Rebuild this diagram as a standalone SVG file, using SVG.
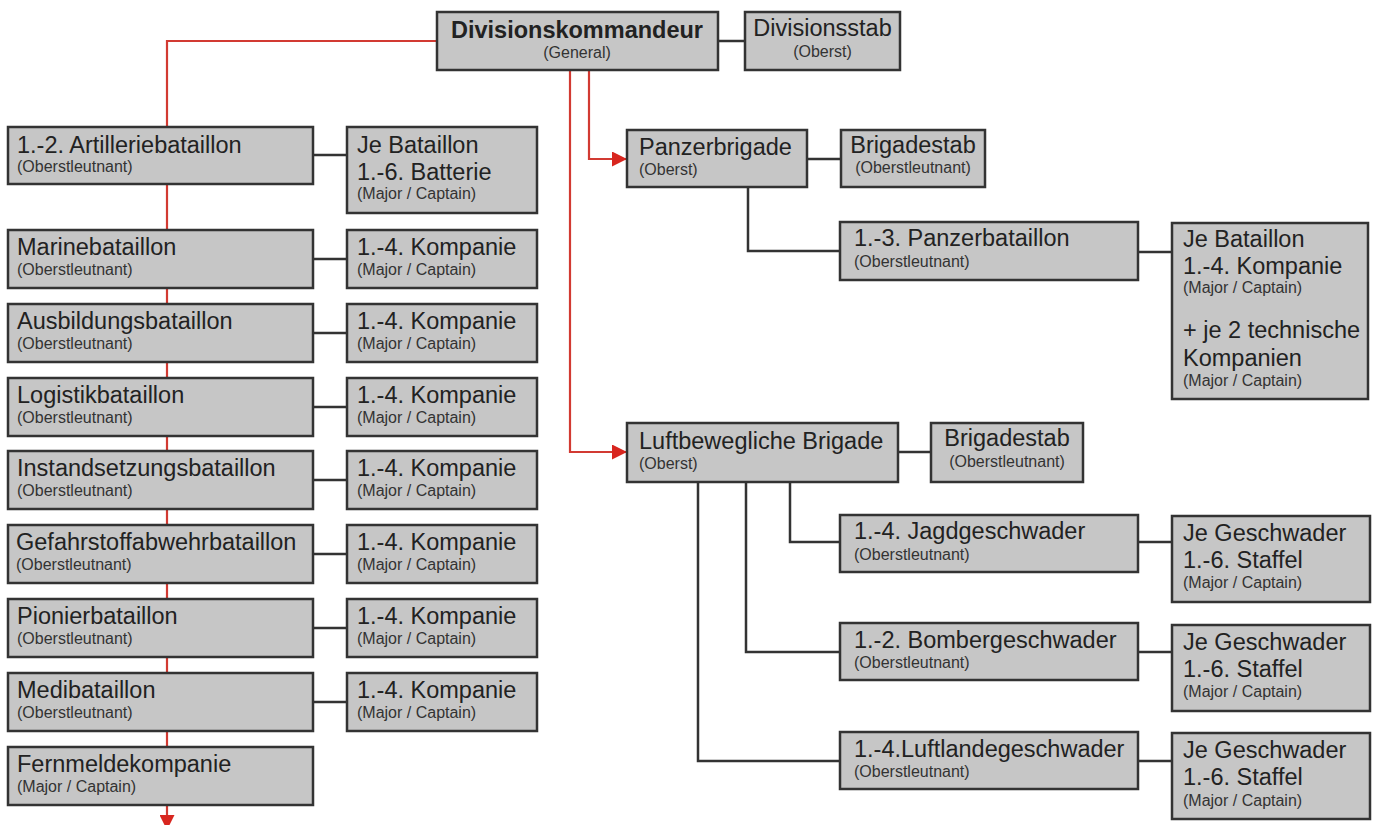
<svg xmlns="http://www.w3.org/2000/svg" width="1382" height="825" viewBox="0 0 1382 825">
<style>
.box{fill:#c6c6c6;stroke:#333;stroke-width:2.5}
.t{font-family:"Liberation Sans",Arial,sans-serif;font-size:23.5px;fill:#222}
.b{font-weight:bold}
.s{font-family:"Liberation Sans",Arial,sans-serif;font-size:16px;fill:#333}
.c{text-anchor:middle}
.dk{fill:none;stroke:#333;stroke-width:2.5}
.rd{fill:none;stroke:#d23a32;stroke-width:2.2}
</style>
<defs>
<marker id="ra" viewBox="0 0 10 10" refX="10" refY="5" markerWidth="18" markerHeight="15" markerUnits="userSpaceOnUse" orient="auto">
<path d="M0,0 L10,5 L0,10 z" fill="#d8261f"/>
</marker>
</defs>
<rect width="1382" height="825" fill="#fff"/>
<g id="connectors">
<path class="rd" d="M437,41 H167 V830" marker-end="url(#ra)"/>
<path class="rd" d="M589,70 V159 H627" marker-end="url(#ra)"/>
<path class="rd" d="M570,70 V452 H627" marker-end="url(#ra)"/>
<path class="dk" d="M717,41 H745"/>
<path class="dk" d="M313,155 H347"/>
<path class="dk" d="M313,259 H347"/>
<path class="dk" d="M313,333 H347"/>
<path class="dk" d="M313,407 H347"/>
<path class="dk" d="M313,480 H347"/>
<path class="dk" d="M313,554 H347"/>
<path class="dk" d="M313,628 H347"/>
<path class="dk" d="M313,702 H347"/>
<path class="dk" d="M807,159 H841"/>
<path class="dk" d="M748,187 V251 H840"/>
<path class="dk" d="M1138,252 H1172"/>
<path class="dk" d="M897,452 H931"/>
<path class="dk" d="M790,482 V542 H840"/>
<path class="dk" d="M746,482 V652 H840"/>
<path class="dk" d="M698,482 V761 H840"/>
<path class="dk" d="M1138,542 H1172"/>
<path class="dk" d="M1138,652 H1172"/>
<path class="dk" d="M1138,761 H1172"/>
</g>
<g id="divisionskommandeur">
<rect class="box" x="437" y="12" width="281" height="58"/>
<text class="t b c" x="577" y="38">Divisionskommandeur</text>
<text class="s c" x="577" y="58">(General)</text>
</g>
<g id="divisionsstab">
<rect class="box" x="745" y="12" width="155" height="58"/>
<text class="t c" x="822.5" y="36">Divisionsstab</text>
<text class="s c" x="822.5" y="57">(Oberst)</text>
</g>
<g id="artillerie">
<rect class="box" x="8" y="127" width="305" height="57"/>
<text class="t" x="17" y="153">1.-2. Artilleriebataillon</text>
<text class="s" x="17" y="172">(Oberstleutnant)</text>
</g>
<g id="artillerie-batterie">
<rect class="box" x="347" y="127" width="190" height="86"/>
<text class="t" x="357" y="153">Je Bataillon</text>
<text class="t" x="357" y="180">1.-6. Batterie</text>
<text class="s" x="357" y="199">(Major / Captain)</text>
</g>
<g id="marine">
<rect class="box" x="8" y="230" width="305" height="58"/>
<text class="t" x="17" y="255">Marinebataillon</text>
<text class="s" x="17" y="275">(Oberstleutnant)</text>
</g>
<g id="marine-kompanie">
<rect class="box" x="347" y="230" width="190" height="58"/>
<text class="t" x="357" y="255">1.-4. Kompanie</text>
<text class="s" x="357" y="275">(Major / Captain)</text>
</g>
<g id="ausbildung">
<rect class="box" x="8" y="304" width="305" height="58"/>
<text class="t" x="17" y="329">Ausbildungsbataillon</text>
<text class="s" x="17" y="349">(Oberstleutnant)</text>
</g>
<g id="ausbildung-kompanie">
<rect class="box" x="347" y="304" width="190" height="58"/>
<text class="t" x="357" y="329">1.-4. Kompanie</text>
<text class="s" x="357" y="349">(Major / Captain)</text>
</g>
<g id="logistik">
<rect class="box" x="8" y="378" width="305" height="58"/>
<text class="t" x="17" y="403">Logistikbataillon</text>
<text class="s" x="17" y="423">(Oberstleutnant)</text>
</g>
<g id="logistik-kompanie">
<rect class="box" x="347" y="378" width="190" height="58"/>
<text class="t" x="357" y="403">1.-4. Kompanie</text>
<text class="s" x="357" y="423">(Major / Captain)</text>
</g>
<g id="instandsetzung">
<rect class="box" x="8" y="451" width="305" height="58"/>
<text class="t" x="17" y="476">Instandsetzungsbataillon</text>
<text class="s" x="17" y="496">(Oberstleutnant)</text>
</g>
<g id="instandsetzung-kompanie">
<rect class="box" x="347" y="451" width="190" height="58"/>
<text class="t" x="357" y="476">1.-4. Kompanie</text>
<text class="s" x="357" y="496">(Major / Captain)</text>
</g>
<g id="gefahrstoff">
<rect class="box" x="8" y="525" width="305" height="58"/>
<text class="t" x="16" y="550">Gefahrstoffabwehrbataillon</text>
<text class="s" x="16" y="570">(Oberstleutnant)</text>
</g>
<g id="gefahrstoff-kompanie">
<rect class="box" x="347" y="525" width="190" height="58"/>
<text class="t" x="357" y="550">1.-4. Kompanie</text>
<text class="s" x="357" y="570">(Major / Captain)</text>
</g>
<g id="pionier">
<rect class="box" x="8" y="599" width="305" height="58"/>
<text class="t" x="17" y="624">Pionierbataillon</text>
<text class="s" x="17" y="644">(Oberstleutnant)</text>
</g>
<g id="pionier-kompanie">
<rect class="box" x="347" y="599" width="190" height="58"/>
<text class="t" x="357" y="624">1.-4. Kompanie</text>
<text class="s" x="357" y="644">(Major / Captain)</text>
</g>
<g id="medi">
<rect class="box" x="8" y="673" width="305" height="58"/>
<text class="t" x="17" y="698">Medibataillon</text>
<text class="s" x="17" y="718">(Oberstleutnant)</text>
</g>
<g id="medi-kompanie">
<rect class="box" x="347" y="673" width="190" height="58"/>
<text class="t" x="357" y="698">1.-4. Kompanie</text>
<text class="s" x="357" y="718">(Major / Captain)</text>
</g>
<g id="fernmelde">
<rect class="box" x="8" y="747" width="305" height="58"/>
<text class="t" x="17" y="772">Fernmeldekompanie</text>
<text class="s" x="17" y="792">(Major / Captain)</text>
</g>
<g id="panzerbrigade">
<rect class="box" x="627" y="130" width="180" height="57"/>
<text class="t" x="639" y="155">Panzerbrigade</text>
<text class="s" x="639" y="175">(Oberst)</text>
</g>
<g id="panzer-brigadestab">
<rect class="box" x="841" y="130" width="144" height="57"/>
<text class="t c" x="913" y="153">Brigadestab</text>
<text class="s c" x="913" y="173">(Oberstleutnant)</text>
</g>
<g id="panzerbataillon">
<rect class="box" x="840" y="222" width="298" height="58"/>
<text class="t" x="854" y="246">1.-3. Panzerbataillon</text>
<text class="s" x="854" y="267">(Oberstleutnant)</text>
</g>
<g id="panzer-kompanie">
<rect class="box" x="1172" y="223" width="196" height="176"/>
<text class="t" x="1183" y="247">Je Bataillon</text>
<text class="t" x="1183" y="274">1.-4. Kompanie</text>
<text class="s" x="1183" y="293">(Major / Captain)</text>
<text class="t" x="1183" y="338">+ je 2 technische</text>
<text class="t" x="1183" y="366">Kompanien</text>
<text class="s" x="1183" y="386">(Major / Captain)</text>
</g>
<g id="luftbewegliche-brigade">
<rect class="box" x="627" y="423" width="271" height="59"/>
<text class="t" x="639" y="449">Luftbewegliche Brigade</text>
<text class="s" x="639" y="469">(Oberst)</text>
</g>
<g id="luft-brigadestab">
<rect class="box" x="931" y="423" width="152" height="59"/>
<text class="t c" x="1007" y="446">Brigadestab</text>
<text class="s c" x="1007" y="467">(Oberstleutnant)</text>
</g>
<g id="jagdgeschwader">
<rect class="box" x="840" y="515" width="298" height="57"/>
<text class="t" x="854" y="539">1.-4. Jagdgeschwader</text>
<text class="s" x="854" y="560">(Oberstleutnant)</text>
</g>
<g id="jagd-staffel">
<rect class="box" x="1172" y="516" width="198" height="86"/>
<text class="t" x="1183" y="541">Je Geschwader</text>
<text class="t" x="1183" y="568">1.-6. Staffel</text>
<text class="s" x="1183" y="588">(Major / Captain)</text>
</g>
<g id="bombergeschwader">
<rect class="box" x="840" y="623" width="298" height="57"/>
<text class="t" x="854" y="648">1.-2. Bombergeschwader</text>
<text class="s" x="854" y="668">(Oberstleutnant)</text>
</g>
<g id="bomber-staffel">
<rect class="box" x="1172" y="625" width="198" height="86"/>
<text class="t" x="1183" y="650">Je Geschwader</text>
<text class="t" x="1183" y="677">1.-6. Staffel</text>
<text class="s" x="1183" y="697">(Major / Captain)</text>
</g>
<g id="luftlandegeschwader">
<rect class="box" x="840" y="732" width="298" height="57"/>
<text class="t" x="854" y="757">1.-4.Luftlandegeschwader</text>
<text class="s" x="854" y="777">(Oberstleutnant)</text>
</g>
<g id="luftlande-staffel">
<rect class="box" x="1172" y="733" width="198" height="86"/>
<text class="t" x="1183" y="758">Je Geschwader</text>
<text class="t" x="1183" y="785">1.-6. Staffel</text>
<text class="s" x="1183" y="806">(Major / Captain)</text>
</g>
</svg>
